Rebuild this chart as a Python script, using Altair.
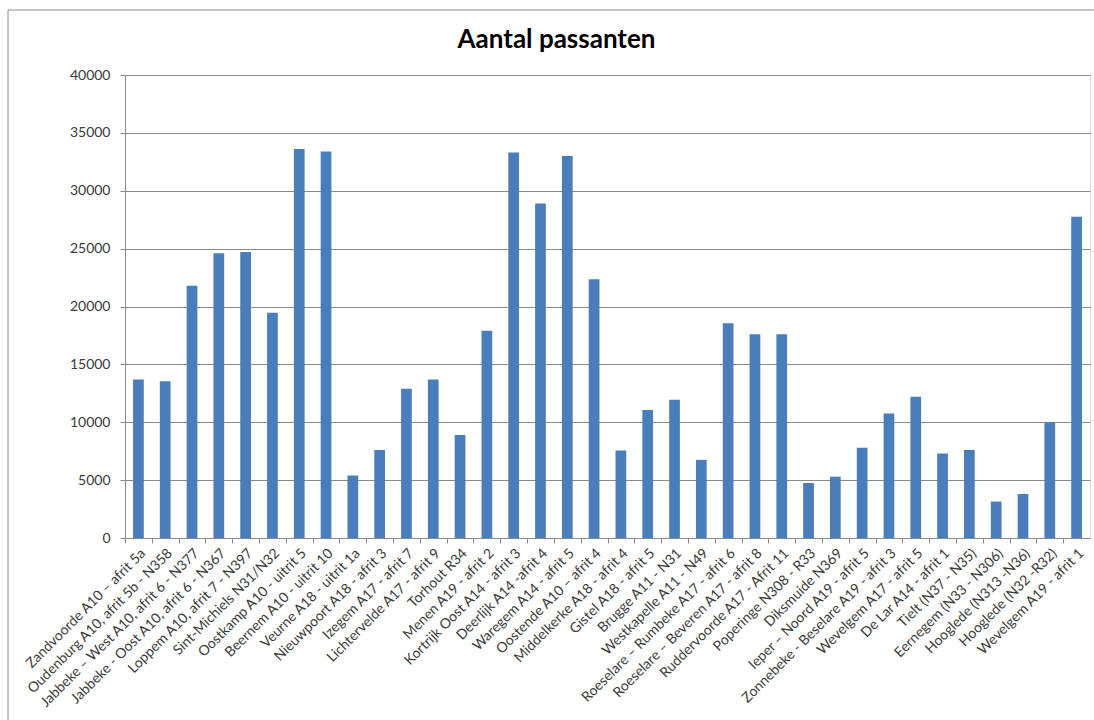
import altair as alt
import pandas as pd

# Locations (in drawing order) and number of passers-by per location
locaties = [
    "Zandvoorde A10 – afrit 5a",
    "Oudenburg A10, afrit 5b - N358",
    "Jabbeke – West  A10, afrit 6 - N377",
    "Jabbeke - Oost A10, afrit 6 - N367",
    "Loppem A10, afrit 7 - N397",
    "Sint-Michiels N31/N32",
    "Oostkamp A10 - uitrit 5",
    "Beernem A10 - uitrit 10",
    "Veurne A18 - uitrit 1a",
    "Nieuwpoort A18 - afrit 3",
    "Izegem A17 - afrit 7",
    "Lichtervelde A17 - afrit 9",
    "Torhout R34",
    "Menen  A19 - afrit 2",
    "Kortrijk Oost A14 - afrit 3",
    "Deerlijk  A14 -afrit 4",
    "Waregem A14 - afrit 5",
    "Oostende A10 – afrit 4",
    "Middelkerke A18 - afrit 4",
    "Gistel  A18 - afrit 5",
    "Brugge A11 - N31",
    "Westkapelle A11 - N49",
    "Roeselare – Rumbeke A17 - afrit 6",
    "Roeselare – Beveren A17 - afrit 8",
    "Ruddervoorde A17 - Afrit 11",
    "Poperinge N308 - R33",
    "Diksmuide N369",
    "Ieper – Noord A19 - afrit 5",
    "Zonnebeke - Beselare A19 - afrit 3",
    "Wevelgem A17 - afrit 5",
    "De Lar  A14 - afrit 1",
    "Tielt (N37 - N35)",
    "Eernegem (N33 - N306)",
    "Hooglede (N313 -N36)",
    "Hooglede (N32 -R32)",
    "Wevelgem A19 - afrit 1",
]

passanten = [
    13700, 13550, 21800, 24600, 24700, 19450, 33600, 33400, 5400, 7600,
    12900, 13700, 8900, 17900, 33300, 28900, 33000, 22350, 7550, 11050,
    11950, 6750, 18550, 17600, 17600, 4750, 5300, 7800, 10750, 12200,
    7300, 7600, 3150, 3800, 10000, 27750,
]

y_ticks = [0, 5000, 10000, 15000, 20000, 25000, 30000, 35000, 40000]

df = pd.DataFrame({"locatie": locaties, "passanten": passanten})

FONT = "Lato"
LINE = "#8a8a8a"
TEXT = "#3a3a3a"
BLUE = "#4A7EBB"

W, H = 965, 463

x_scale = alt.Scale(paddingInner=0.6, paddingOuter=0.3)

y_enc = alt.Y(
    "passanten:Q",
    title=None,
    scale=alt.Scale(domain=[0, 40000], nice=False),
    axis=alt.Axis(
        values=y_ticks,
        format="d",
        grid=True,
        gridColor=LINE,
        gridWidth=1,
        tickColor=LINE,
        tickSize=5,
        domainColor=LINE,
        labelFont=FONT,
        labelFontSize=14,
        labelColor=TEXT,
        labelPadding=10,
    ),
)

bars = alt.Chart(df).mark_bar(color=BLUE).encode(
    x=alt.X(
        "locatie:N",
        sort=locaties,
        title=None,
        scale=x_scale,
        axis=alt.Axis(
            orient="bottom",
            labelAngle=-45,
            ticks=False,
            tickSize=0,
            domainColor=LINE,
            domainWidth=1,
            labelFont=FONT,
            labelFontSize=14,
            labelColor=TEXT,
            labelLimit=340,
            labelPadding=8,
        ),
    ),
    y=y_enc,
)

# Category separator ticks below the x axis (between the bars)
separators = alt.Chart(df).mark_bar(opacity=0).encode(
    x=alt.X(
        "locatie:N",
        sort=locaties,
        title=None,
        scale=x_scale,
        axis=alt.Axis(
            orient="bottom",
            labels=False,
            domain=False,
            ticks=True,
            tickColor=LINE,
            tickSize=5,
            bandPosition=0.5,
            tickOffset=-W / len(locaties) / 2,
        ),
    ),
    y=y_enc,
)

# Outer chart frame
frame = alt.Chart(pd.DataFrame({"f": [0]})).mark_rect(
    fill=None, stroke=LINE, strokeWidth=1
).encode(
    x=alt.value(-117), x2=alt.value(1200),
    y=alt.value(-65), y2=alt.value(800),
)

chart = (
    alt.layer(frame, bars, separators)
    .resolve_axis(x="independent")
    .properties(
        width=W,
        height=H,
        autosize=alt.AutoSizeParams(type="none"),
        padding={"left": 125, "top": 75, "right": 4, "bottom": 182},
        title=alt.TitleParams(
            "Aantal passanten",
            font=FONT,
            fontSize=26,
            fontWeight="bold",
            color="#000000",
            anchor="middle",
            frame="group",
            dx=-51,
            baseline="bottom",
            offset=-69,
        ),
    )
    .configure_view(stroke=None)
    .configure(background="white")
)

chart.save("out.html", embed_options={"renderer": "svg", "actions": False})
